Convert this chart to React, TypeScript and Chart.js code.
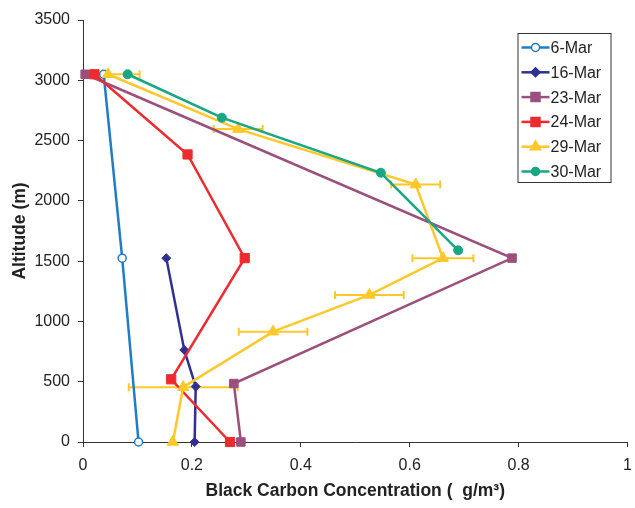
import React, { useEffect, useRef } from "react";
import { Chart, registerables } from "chart.js";

Chart.register(...registerables);

// ---- data ----
const seriesNames = ["6-Mar", "16-Mar", "23-Mar", "24-Mar", "29-Mar", "30-Mar"];

const mar6Conc = [0.038, 0.072, 0.102];
const mar6Alt = [3050, 1525, 0];

const mar16Conc = [0.153, 0.186, 0.207, 0.205];
const mar16Alt = [1525, 763, 460, 0];

const mar23Conc = [0.004, 0.788, 0.277, 0.29];
const mar23Alt = [3050, 1525, 485, 0];

const mar24Conc = [0.021, 0.192, 0.297, 0.162, 0.27];
const mar24Alt = [3050, 2385, 1525, 520, 0];

const mar29Conc = [0.046, 0.285, 0.611, 0.661, 0.526, 0.349, 0.184, 0.165];
const mar29Alt = [3050, 2595, 2135, 1525, 1220, 915, 455, 0];
const mar29Err = [0.058, 0.045, 0.045, 0.056, 0.063, 0.063, 0.1, 0];

const mar30Conc = [0.082, 0.255, 0.547, 0.689];
const mar30Alt = [3050, 2690, 2233, 1590];

const xTicksStep = 0.2;
const yTicksStep = 500;

// ---- styles ----
const FONT = "'Liberation Sans', Arial, sans-serif";
const colors = ["#1f7cc6", "#2e3192", "#9c4f7c", "#ee2a2e", "#ffc82a", "#19a683"];
const markers = ["circle", "rectRot", "rect", "rect", "triangle", "circle"];
const radii = [4, 4.5, 6, 6.5, 6.5, 4.5];
const fills = ["#ffffff", colors[1], colors[2], colors[3], colors[4], colors[5]];

function drawMarker(ctx: CanvasRenderingContext2D, kind: string, x: number, y: number, i: number) {
  ctx.save();
  ctx.fillStyle = fills[i];
  ctx.strokeStyle = colors[i];
  ctx.lineWidth = 1.5;
  ctx.beginPath();
  if (kind === "circle") {
    ctx.arc(x, y, 4, 0, Math.PI * 2);
  } else if (kind === "rectRot") {
    const r = 4.5;
    ctx.moveTo(x, y - r);
    ctx.lineTo(x + r, y);
    ctx.lineTo(x, y + r);
    ctx.lineTo(x - r, y);
    ctx.closePath();
  } else if (kind === "rect") {
    const s = 4.5;
    ctx.rect(x - s, y - s, 2 * s, 2 * s);
  } else if (kind === "triangle") {
    const r = 6;
    ctx.moveTo(x, y - r);
    ctx.lineTo(x + r * 0.866, y + r * 0.5);
    ctx.lineTo(x - r * 0.866, y + r * 0.5);
    ctx.closePath();
  }
  ctx.fill();
  ctx.stroke();
  ctx.restore();
}

const errorBarPlugin = {
  id: "errBars",
  beforeDatasetsDraw(chart: any) {
    const { ctx, chartArea, scales } = chart;
    const xs = scales.x;
    const ys = scales.y;
    ctx.save();
    ctx.beginPath();
    ctx.rect(chartArea.left - 1, chartArea.top, chartArea.width + 1, chartArea.height);
    ctx.clip();
    ctx.strokeStyle = colors[4];
    ctx.lineWidth = 2;
    mar29Conc.forEach((c, k) => {
      const e = mar29Err[k];
      if (!e) return;
      const py = ys.getPixelForValue(mar29Alt[k]);
      const x1 = xs.getPixelForValue(c - e);
      const x2 = xs.getPixelForValue(c + e);
      ctx.beginPath();
      ctx.moveTo(x1, py);
      ctx.lineTo(x2, py);
      ctx.moveTo(x1, py - 4);
      ctx.lineTo(x1, py + 4);
      ctx.moveTo(x2, py - 4);
      ctx.lineTo(x2, py + 4);
      ctx.stroke();
    });
    ctx.restore();
  },
};

const legendPlugin = {
  id: "boxLegend",
  afterDraw(chart: any) {
    const { ctx, chartArea } = chart;
    const left = chartArea.right - 110;
    const top = chartArea.top + 13;
    const w = 93;
    const h = 149;
    ctx.save();
    ctx.fillStyle = "#ffffff";
    ctx.fillRect(left, top, w, h);
    ctx.strokeStyle = "#333333";
    ctx.lineWidth = 1;
    ctx.strokeRect(left + 0.5, top + 0.5, w, h);
    seriesNames.forEach((name, i) => {
      const cy = top + 14.5 + i * 24.8;
      ctx.strokeStyle = colors[i];
      ctx.lineWidth = 2.5;
      ctx.beginPath();
      ctx.moveTo(left + 4, cy);
      ctx.lineTo(left + 32, cy);
      ctx.stroke();
      drawMarker(ctx, markers[i], left + 18, cy, i);
      ctx.fillStyle = "#222222";
      ctx.font = `16px ${FONT}`;
      ctx.textBaseline = "middle";
      ctx.textAlign = "left";
      ctx.fillText(name, left + 33, cy + 1);
    });
    ctx.restore();
  },
};

function makeDataset(i: number, xs: number[], ys: number[]) {
  return {
    label: seriesNames[i],
    data: xs.map((x, k) => ({ x, y: ys[k] })),
    showLine: true,
    borderColor: colors[i],
    backgroundColor: fills[i],
    pointBorderColor: colors[i],
    pointBackgroundColor: fills[i],
    pointStyle: markers[i],
    pointRadius: radii[i],
    pointBorderWidth: i === 0 ? 1.5 : 1,
    borderWidth: 2.5,
    order: 6 - i,
    clip: false as any,
  };
}

export default function App() {
  const ref = useRef<HTMLCanvasElement>(null);
  useEffect(() => {
    if (!ref.current) return;
    const chart = new Chart(ref.current, {
      type: "scatter",
      data: {
        datasets: [
          makeDataset(0, mar6Conc, mar6Alt),
          makeDataset(1, mar16Conc, mar16Alt),
          makeDataset(2, mar23Conc, mar23Alt),
          makeDataset(3, mar24Conc, mar24Alt),
          makeDataset(4, mar29Conc, mar29Alt),
          makeDataset(5, mar30Conc, mar30Alt),
        ] as any,
      },
      options: {
        animation: false,
        responsive: false,
        devicePixelRatio: 1,
        layout: { padding: { top: 20, right: 4, bottom: 0, left: 0 } },
        plugins: {
          legend: { display: false },
          tooltip: { enabled: false },
        },
        scales: {
          x: {
            type: "linear",
            min: 0,
            max: 1,
            ticks: {
              stepSize: xTicksStep,
              color: "#222222",
              font: { size: 16, family: FONT },
              padding: 9,
              callback: (v: any) => String(Math.round(Number(v) * 10) / 10),
            },
            grid: {
              display: true,
              drawOnChartArea: false,
              drawTicks: true,
              tickLength: 5,
              color: "#333333",
              lineWidth: 1,
            },
            border: { display: true, color: "#333333", width: 1 },
            title: {
              display: true,
              text: "Black Carbon Concentration (  g/m³)",
              color: "#222222",
              font: { size: 17.5, weight: "bold", family: FONT },
              padding: { top: 0, bottom: 6 },
            },
            afterFit: (s: any) => {
              s.height = 66;
              s.paddingLeft = 0;
              s.paddingRight = 0;
            },
          },
          y: {
            type: "linear",
            min: 0,
            max: 3500,
            ticks: {
              stepSize: yTicksStep,
              color: "#222222",
              font: { size: 16, family: FONT },
              padding: 8,
              callback: (v: any) => String(v),
            },
            grid: {
              display: true,
              drawOnChartArea: false,
              drawTicks: true,
              tickLength: 5,
              color: "#333333",
              lineWidth: 1,
            },
            border: { display: true, color: "#333333", width: 1 },
            title: {
              display: true,
              text: "Altitude (m)",
              color: "#222222",
              font: { size: 17.5, weight: "bold", family: FONT },
              padding: { top: 10, bottom: 0 },
            },
            afterFit: (s: any) => {
              s.width = 83;
              s.paddingTop = 0;
              s.paddingBottom = 0;
            },
          },
        },
      } as any,
      plugins: [errorBarPlugin, legendPlugin],
    });
    return () => chart.destroy();
  }, []);
  return (
    <div style={{ position: "fixed", left: 0, top: 0, width: 635, height: 508, background: "#fff" }}>
      <canvas ref={ref} width={635} height={508} style={{ display: "block" }} />
    </div>
  );
}
